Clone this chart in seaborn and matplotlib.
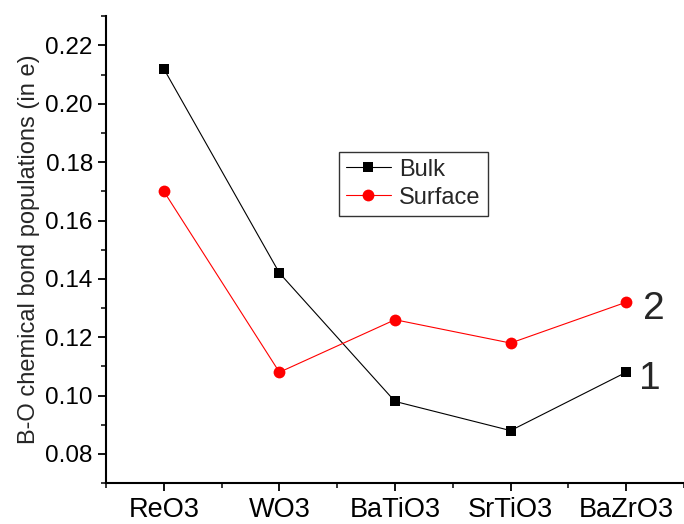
import matplotlib
matplotlib.use("Agg")
import matplotlib.pyplot as plt
import seaborn as sns
from matplotlib.ticker import FixedLocator, FormatStrFormatter

categories = ["ReO3", "WO3", "BaTiO3", "SrTiO3", "BaZrO3"]
bulk = [0.212, 0.142, 0.098, 0.088, 0.108]
surface = [0.170, 0.108, 0.126, 0.118, 0.132]
series_labels = ["Bulk", "Surface"]
curve_tags = ["1", "2"]
y_major = [0.08, 0.10, 0.12, 0.14, 0.16, 0.18, 0.20, 0.22]
y_minor = [0.07, 0.09, 0.11, 0.13, 0.15, 0.17, 0.19, 0.21, 0.23]

sns.set_style("ticks")
plt.rcParams["font.family"] = ["Liberation Sans", "DejaVu Sans"]

fig = plt.figure(figsize=(6.84, 5.24), dpi=100)
ax = fig.add_axes([0.155, 0.078, 0.845, 0.891])

sns.lineplot(x=categories, y=bulk, ax=ax, color="black", marker="s",
             markersize=7.5, markeredgewidth=0, linewidth=0.8, label=series_labels[0], sort=False)
sns.lineplot(x=categories, y=surface, ax=ax, color="red", marker="o",
             markersize=8.5, markeredgewidth=0, linewidth=0.8, label=series_labels[1], sort=False)

ax.set_xlim(-0.5, 4.5)
ax.set_ylim(0.07, 0.23)
ax.yaxis.set_major_locator(FixedLocator(y_major))
ax.yaxis.set_major_formatter(FormatStrFormatter("%.2f"))
ax.yaxis.set_minor_locator(FixedLocator(y_minor))
ax.xaxis.set_minor_locator(FixedLocator([-0.5, 0.5, 1.5, 2.5, 3.5, 4.5]))

ax.tick_params(axis="both", which="major", direction="out", length=6, width=1.3, colors="black")
ax.tick_params(axis="y", which="major", labelsize=17.5)
ax.tick_params(axis="x", which="major", labelsize=19.5, pad=4)
ax.tick_params(axis="both", which="minor", direction="out", length=3.5, width=1.3)

for s in ["top", "right"]:
    ax.spines[s].set_visible(False)
for s in ["left", "bottom"]:
    ax.spines[s].set_linewidth(1.5)
    ax.spines[s].set_color("black")

ax.set_xlabel("")
ax.set_ylabel("B-O chemical bond populations (in e)", fontsize=17, labelpad=4)

leg = ax.legend(loc="upper left", bbox_to_anchor=(0.403, 0.710), borderaxespad=0,
                fontsize=17, frameon=True, fancybox=False, handlelength=1.9,
                handletextpad=0.35, borderpad=0.3, labelspacing=0.25)
leg.get_frame().set_edgecolor("black")
leg.get_frame().set_linewidth(1.0)

ax.text(4.24, 0.1296, curve_tags[1], fontsize=28, ha="center", va="center")
ax.text(4.20, 0.1056, curve_tags[0], fontsize=28, ha="center", va="center")

fig.savefig("out.png", dpi=100)
